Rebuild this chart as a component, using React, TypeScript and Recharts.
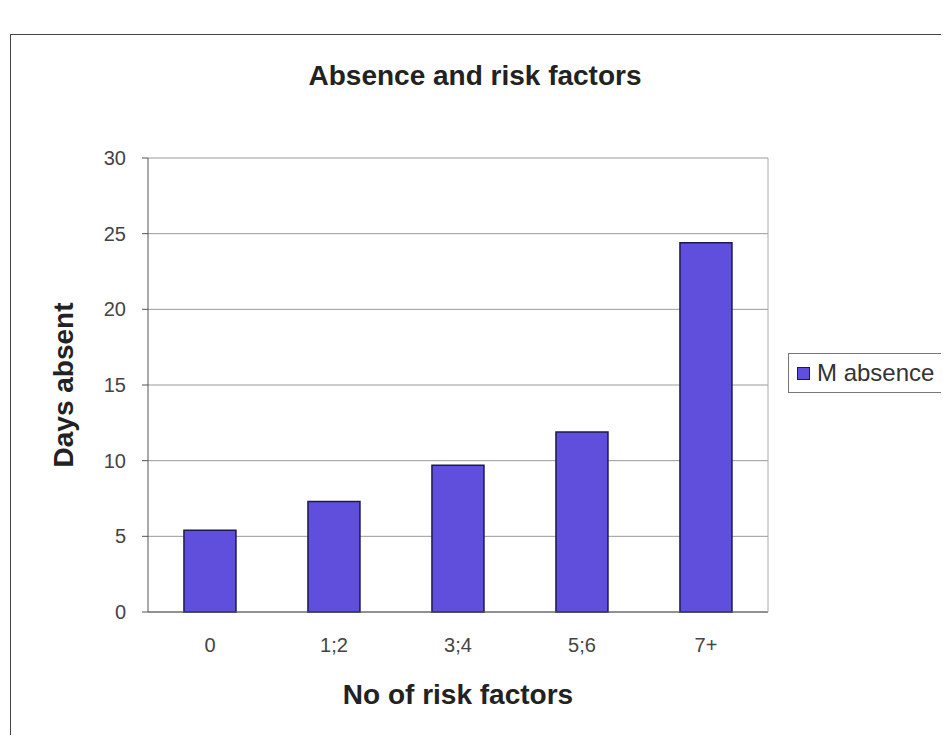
import React from "react"
import { Bar, BarChart, XAxis, YAxis, CartesianGrid } from "recharts"

const categories = ["0", "1;2", "3;4", "5;6", "7+"]
const absence = [5.4, 7.3, 9.7, 11.9, 24.4]
const yTicks = [0, 5, 10, 15, 20, 25, 30]

const data = categories.map((name, i) => ({ name, absence: absence[i] }))

const font = "'Liberation Sans', Arial, sans-serif"
const barFill = "#5f4fdc"

function LegendBox() {
    return (
        <div
            style={{
                position: "absolute",
                left: 780,
                top: 345,
                width: 157,
                height: 40,
                border: "1px solid #777",
                padding: "0 8px",
                display: "flex",
                alignItems: "center",
                fontFamily: font,
                fontSize: 24,
                color: "#333",
                background: "#fff",
                boxSizing: "border-box",
                whiteSpace: "nowrap",
            }}
        >
            <span style={{ width: 11, height: 11, background: barFill, border: "1px solid #1a1a50", marginRight: 7, flexShrink: 0 }} />
            M absence
        </div>
    )
}

export default function App() {
    return (
        <div style={{ position: "relative", width: 941, height: 727, overflow: "hidden" }}>
            <div style={{ position: "absolute", left: 2, top: 26, width: 935, height: 720, border: "1px solid #444", boxSizing: "border-box" }} />
            <div
                style={{
                    position: "absolute",
                    left: 0,
                    width: 934,
                    top: 52,
                    textAlign: "center",
                    fontFamily: font,
                    fontSize: 28,
                    fontWeight: "bold",
                    color: "#222",
                }}
            >
                Absence and risk factors
            </div>
            <BarChart
                width={941}
                height={727}
                data={data}
                margin={{ top: 150, right: 180, left: 0, bottom: 63 }}
                barCategoryGap="29%"
                style={{ position: "absolute", left: 0, top: 0 }}
            >
                <CartesianGrid vertical={false} stroke="#9a9a9a" />
                <XAxis
                    dataKey="name"
                    height={60}
                    axisLine={{ stroke: "#555" }}
                    tickLine={false}
                    tickMargin={20}
                    tick={{ fill: "#444", fontSize: 20, fontFamily: font }}
                    label={{ value: "No of risk factors", position: "insideBottom", offset: -32, style: { fill: "#222", fontSize: 28, fontWeight: "bold", fontFamily: font } }}
                />
                <YAxis
                    width={140}
                    domain={[0, 30]}
                    ticks={yTicks}
                    interval={0}
                    axisLine={{ stroke: "#555" }}
                    tickLine={{ stroke: "#555" }}
                    tickSize={6}
                    tickMargin={16}
                    tick={{ fill: "#444", fontSize: 20, fontFamily: font }}
                    label={{ value: "Days absent", angle: -90, position: "insideLeft", offset: 55, style: { textAnchor: "middle", fill: "#222", fontSize: 28, fontWeight: "bold", fontFamily: font } }}
                />
                <YAxis yAxisId="frame" orientation="right" width={1} domain={[0, 30]} tick={false} tickLine={false} axisLine={{ stroke: "#aaa" }} />
                <Bar dataKey="absence" name="M absence" fill={barFill} stroke="#1a1a50" strokeWidth={1.5} isAnimationActive={false} />
            </BarChart>
            <LegendBox />
        </div>
    )
}
